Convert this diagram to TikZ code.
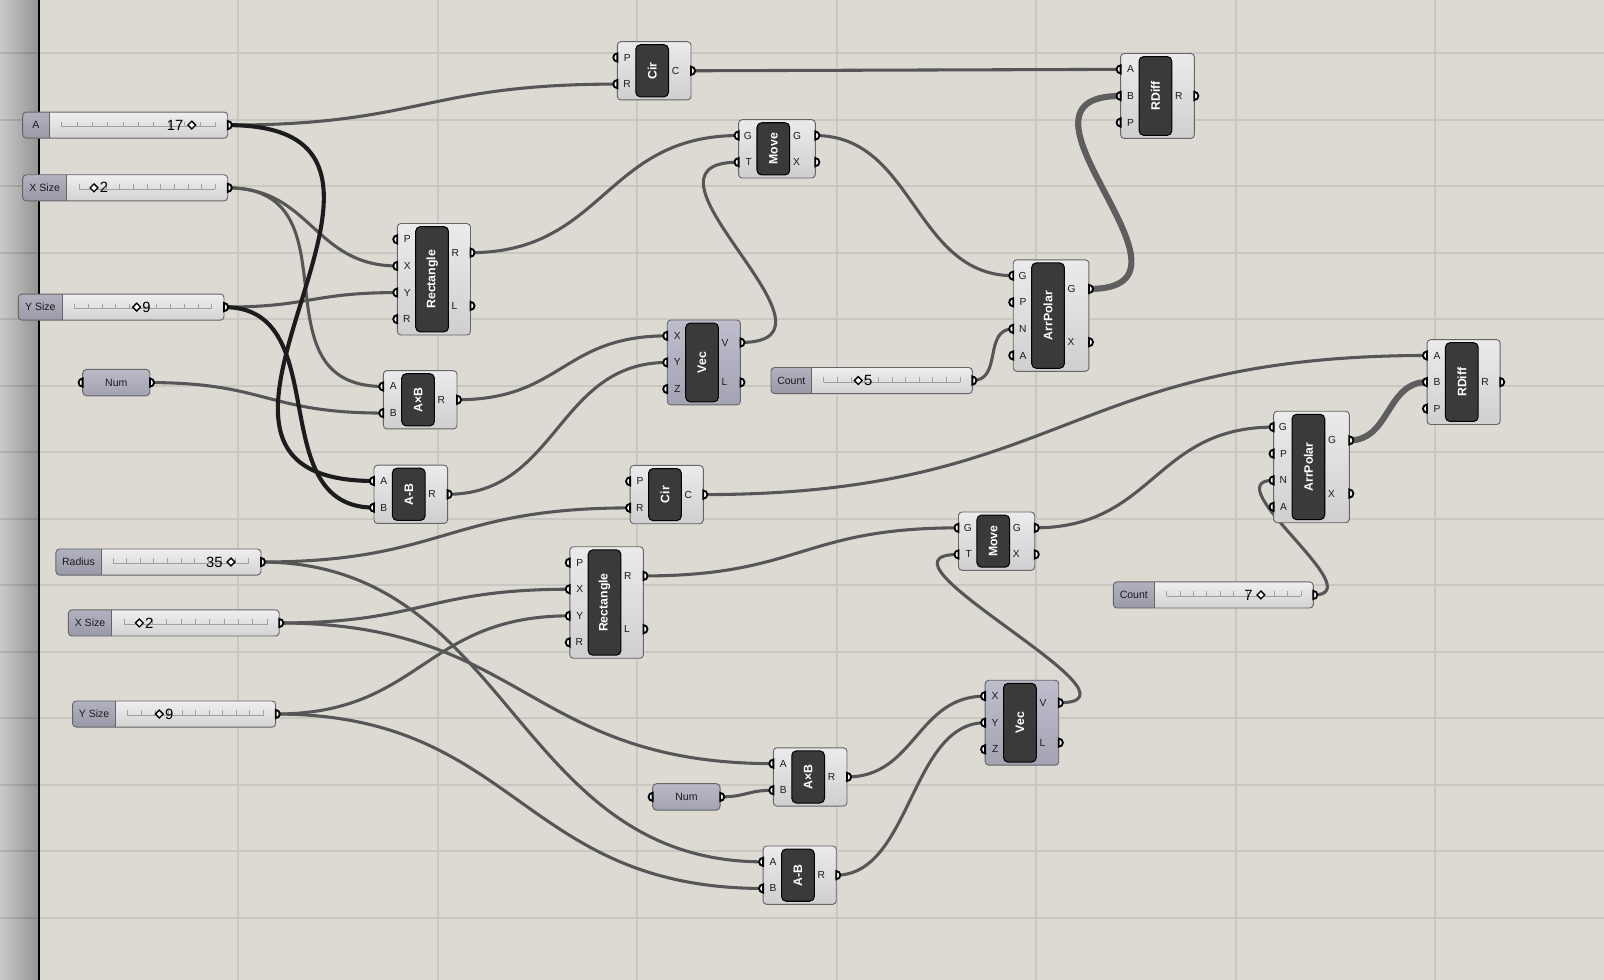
\documentclass[tikz,border=0pt]{standalone}
\usepackage{fontspec}
\setmainfont{Liberation Sans}

\definecolor{canvas}{HTML}{DCDAD3}
\definecolor{gridc}{HTML}{C9C7C1}
\definecolor{stripL}{HTML}{C9C9C6}
\definecolor{stripM}{HTML}{BDBDBA}
\definecolor{stripR}{HTML}{959593}
\definecolor{wiregray}{HTML}{565656}
\definecolor{wirehotc}{HTML}{1C1C1C}
\definecolor{wirelistc}{HTML}{5E5E5E}
\definecolor{boxedge}{HTML}{656565}
\definecolor{bodytop}{HTML}{EBEBEB}
\definecolor{bodybot}{HTML}{CFCFCF}
\definecolor{vectop}{HTML}{BEBDCC}
\definecolor{vecbot}{HTML}{A4A3B3}
\definecolor{capsfill}{HTML}{3A3A3A}
\definecolor{sltop}{HTML}{EEEEEE}
\definecolor{slbot}{HTML}{D3D3D3}
\definecolor{labtop}{HTML}{B2B1BF}
\definecolor{labbot}{HTML}{9A99A8}
\definecolor{numtop}{HTML}{BAB9C7}
\definecolor{numbot}{HTML}{A3A2B1}
\definecolor{trackc}{HTML}{A0A0A0}
\definecolor{ink}{HTML}{1A1A1A}

\pgfdeclarelayer{gridlayer}
\pgfdeclarelayer{wirelayer}
\pgfsetlayers{gridlayer,wirelayer,main}

\tikzset{
  gridline/.style={draw=gridc, line width=2pt},
  wire/.style={draw=wiregray, line width=3pt},
  wirehot/.style={draw=wirehotc, line width=4pt},
  wirelist/.style={draw=wirelistc, line width=6pt},
  ghbody/.style={draw=boxedge, line width=0.9pt, rounded corners=3.5pt,
    top color=bodytop, bottom color=bodybot, inner sep=0pt, outer sep=0pt},
  ghbodyv/.style={ghbody, top color=vectop, bottom color=vecbot},
  ghcaps/.style={draw=black, line width=1pt, fill=capsfill, rounded corners=4.5pt,
    inner sep=0pt, outer sep=0pt},
  ghtitle/.style={text=white, font=\fontsize{12}{14}\selectfont\bfseries,
    rotate=90, inner sep=0pt},
  ghplab/.style={text=ink, font=\fontsize{10}{12}\selectfont, inner sep=0pt},
  ghport/.style={draw=black, line width=1.8pt, fill=white},
  ghsltext/.style={text=ink, font=\fontsize{10.3}{12}\selectfont, inner sep=0pt},
  ghval/.style={text=black, font=\fontsize{14.5}{16}\selectfont, inner sep=0pt},
  valL/.style={anchor=east, xshift=-8pt},
  valR/.style={anchor=west, xshift=5.5pt},
  trackline/.style={draw=trackc, line width=0.9pt},
  ghgrip/.style={draw=black, line width=1.3pt, fill=white},
  ghnumbox/.style={draw=boxedge, line width=0.9pt, rounded corners=4pt,
    top color=numtop, bottom color=numbot, inner sep=0pt, outer sep=0pt,
    text=ink, font=\fontsize{10.3}{12}\selectfont},
}

% component: name, left, top, width, rows, title, inputs, outputs, body style
\newcommand\ghcomp[9]{%
  \pgfmathsetmacro\ghL{#2}%
  \pgfmathsetmacro\ghT{#3}%
  \pgfmathsetmacro\ghR{#2+#4}%
  \pgfmathsetmacro\ghH{26*#5+5}%
  \pgfmathsetmacro\ghC{\ghH-6}%
  \node[#9, minimum width=#4pt, minimum height=\ghH pt, anchor=north west] (#1) at (\ghL,\ghT) {};
  \node[ghcaps, minimum width=32pt, minimum height=\ghC pt, anchor=north west] (#1-core) at (\ghL+18,\ghT+3) {};
  \node[ghtitle] at (#1-core.center) {#6};
  \foreach \lab [count=\i] in {#7} {
    \pgfmathsetmacro\ghy{\ghT+2.5+26*(\i-0.5)}
    \coordinate (#1-i\i) at (\ghL,\ghy);
    \draw[ghport] (\ghL,\ghy-4) arc[start angle=-90,end angle=-270,radius=4] -- cycle;
    \node[ghplab, anchor=east] at (\ghL+13.2,\ghy) {\lab};
  }
  \foreach \lab [count=\i] in {#8} {\xdef\ghN{\i}}
  \foreach \lab [count=\i] in {#8} {
    \pgfmathsetmacro\ghy{\ghT+2.5+(\ghH-5)/\ghN*(\i-0.5)}
    \coordinate (#1-o\i) at (\ghR,\ghy);
    \draw[ghport] (\ghR,\ghy-4) arc[start angle=-90,end angle=90,radius=4] -- cycle;
    \node[ghplab, anchor=west] at (\ghL+53,\ghy) {\lab};
  }
}

% number slider: name, left, right, centre y, end of name tab, name, value, grip x, value side
\newcommand\ghslider[9]{%
  \pgfmathsetmacro\slT{#4-12.75}%
  \pgfmathsetmacro\slB{#4+12.75}%
  \pgfmathsetmacro\slW{#3-#2}%
  \begin{scope}
    \clip[rounded corners=3.5pt] (#2,\slT) rectangle (#3,\slB);
    \shade[top color=sltop, bottom color=slbot] (#2,\slT) rectangle (#3,\slB);
    \shade[top color=labtop, bottom color=labbot] (#2,\slT) rectangle (#5,\slB);
  \end{scope}
  \draw[boxedge, line width=0.9pt] (#5,\slT) -- (#5,\slB);
  \node[draw=boxedge, line width=0.9pt, rounded corners=3.5pt, minimum width=\slW pt,
    minimum height=25.5pt, inner sep=0pt, outer sep=0pt, anchor=west] (#1) at (#2,#4) {};
  \node[ghsltext] at ({(#2+#5)/2},#4) {#6};
  \draw[trackline] (#5+12,#4+1.5) -- (#3-12,#4+1.5);
  \foreach \k in {0,...,10} {
    \draw[trackline] ({#5+12+\k*(#3-#5-24)/10},#4+1.5) -- ++(0,-5);
  }
  \draw[ghgrip] (#8,#4-3.8) -- (#8+3.8,#4) -- (#8,#4+3.8) -- (#8-3.8,#4) -- cycle;
  \node[ghval, #9] at (#8,#4) {#7};
  \coordinate (#1-o) at (#3,#4);
  \draw[ghport] (#3,#4-4) arc[start angle=-90,end angle=90,radius=4] -- cycle;
}

% number parameter: name, left, right, centre y
\newcommand\ghnum[4]{%
  \pgfmathsetmacro\slW{#3-#2}%
  \node[ghnumbox, minimum width=\slW pt, minimum height=26pt, anchor=west] (#1) at (#2,#4) {Num};
  \coordinate (#1-i) at (#2,#4);
  \coordinate (#1-o) at (#3,#4);
  \draw[ghport] (#2,#4-4) arc[start angle=-90,end angle=-270,radius=4] -- cycle;
  \draw[ghport] (#3,#4-4) arc[start angle=-90,end angle=90,radius=4] -- cycle;
}

% wire between two ports with horizontal tangents
\newcommand\ghwire[4][wire]{%
  \draw[#1] (#2) .. controls +(#4,0) and +(-#4,0) .. (#3);
}

\begin{document}
\begin{tikzpicture}[x=1pt, y=-1pt]
\useasboundingbox (0,0) rectangle (1568,958);

\begin{pgfonlayer}{gridlayer}
  \fill[canvas] (0,0) rectangle (1568,958);
  \shade[left color=stripL, middle color=stripM, right color=stripR] (0,0) rectangle (37,958);
  \foreach \gx in {233,428,...,1403} \draw[gridline] (\gx,0) -- (\gx,958);
  \foreach \gy in {52,117,...,897} {
    \draw[gridline] (39,\gy) -- (1568,\gy);
    \draw[draw=black, draw opacity=0.1, line width=2pt] (0,\gy) -- (37,\gy);
  }
  \fill[black] (36.8,0) rectangle (39.2,958);
\end{pgfonlayer}

% upper group
\ghslider{sA}{22.2}{222.6}{122.3}{48.2}{A}{17}{187.5}{valL}
\ghslider{sXT}{22.2}{222.6}{183.6}{65.2}{X Size}{2}{91.9}{valR}
\ghslider{sYT}{17.9}{219}{300.2}{60.9}{Y Size}{9}{133.6}{valR}
\ghnum{numT}{80.8}{146.6}{374}
\ghcomp{cirT}{603.5}{40.7}{72}{2}{Cir}{P,R}{C}{ghbody}
\ghcomp{moveT}{722}{117}{75}{2}{Move}{G,T}{G,X}{ghbody}
\ghcomp{rectT}{388.4}{218.5}{71.5}{4}{Rectangle}{P,X,Y,R}{R,L}{ghbody}
\ghcomp{axbT}{374.7}{362.3}{72}{2}{A×B}{A,B}{R}{ghbody}
\ghcomp{absT}{365.6}{454.7}{72}{2}{A-B}{A,B}{R}{ghbody}
\ghcomp{vecT}{652.3}{312.8}{71.5}{3}{Vec}{X,Y,Z}{V,L}{ghbodyv}
\ghslider{sC5}{753.7}{950.5}{372}{793.4}{Count}{5}{839}{valR}
\ghcomp{arrT}{990.5}{254}{74}{4}{ArrPolar}{G,P,N,A}{G,X}{ghbody}
\ghcomp{rdiffT}{1095.5}{52.3}{72}{3}{RDiff}{A,B,P}{R}{ghbody}

% lower group
\ghcomp{cirM}{616}{455}{71.5}{2}{Cir}{P,R}{C}{ghbody}
\ghslider{sR}{54.7}{255.1}{549.4}{98.7}{Radius}{35}{225.8}{valL}
\ghslider{sXB}{66.8}{273}{609}{109.2}{X Size}{2}{136.2}{valR}
\ghslider{sYB}{71}{269.5}{698}{113}{Y Size}{9}{155.7}{valR}
\ghcomp{rectB}{557}{534.5}{72}{4}{Rectangle}{P,X,Y,R}{R,L}{ghbody}
\ghcomp{moveM}{937}{500.5}{74.5}{2}{Move}{G,T}{G,X}{ghbody}
\ghcomp{vecB}{963}{665}{72}{3}{Vec}{X,Y,Z}{V,L}{ghbodyv}
\ghcomp{axbB}{756}{731}{72}{2}{A×B}{A,B}{R}{ghbody}
\ghnum{numB}{638}{704}{779}
\ghcomp{absB}{746}{827}{71.5}{2}{A-B}{A,B}{R}{ghbody}
\ghcomp{arrR}{1245}{402}{74}{4}{ArrPolar}{G,P,N,A}{G,X}{ghbody}
\ghcomp{rdiffR}{1395}{332}{71.5}{3}{RDiff}{A,B,P}{R}{ghbody}
\ghslider{sC7}{1088.3}{1283.8}{581.6}{1128.4}{Count}{7}{1232.6}{valL}

\begin{pgfonlayer}{wirelayer}
  % upper group
  \ghwire{sA-o}{cirT-i2}{190}
  \ghwire{sXT-o}{rectT-i2}{82}
  \ghwire{sXT-o}{axbT-i1}{130}
  \ghwire{sYT-o}{rectT-i3}{84}
  \ghwire{numT-o}{axbT-i2}{114}
  \ghwire{rectT-o1}{moveT-i1}{131}
  \ghwire{axbT-o1}{vecT-i1}{103}
  \ghwire{absT-o1}{vecT-i2}{108}
  \ghwire{vecT-o1}{moveT-i2}{120}
  \ghwire{cirT-o1}{rdiffT-i1}{210}
  \ghwire{moveT-o1}{arrT-i1}{97}
  \ghwire{sC5-o}{arrT-i3}{30}
  \ghwire[wirelist]{arrT-o1}{rdiffT-i2}{130}
  \ghwire[wirehot]{sA-o}{absT-i1}{250}
  \ghwire[wirehot]{sYT-o}{absT-i2}{110}
  % lower group
  \ghwire{cirM-o1}{rdiffR-i1}{354}
  \ghwire[wirelist]{arrR-o1}{rdiffR-i2}{40}
  \ghwire{moveM-o1}{arrR-i1}{117}
  \ghwire{sC7-o}{arrR-i3}{60}
  \ghwire{rectB-o1}{moveM-i1}{154}
  \ghwire{vecB-o1}{moveM-i2}{100}
  \ghwire{sR-o}{cirM-i2}{180}
  \ghwire{sR-o}{absB-i1}{245}
  \ghwire{sXB-o}{rectB-i2}{141}
  \ghwire{sXB-o}{axbB-i1}{240}
  \ghwire{sYB-o}{rectB-i3}{143}
  \ghwire{sYB-o}{absB-i2}{237}
  \ghwire{numB-o}{axbB-i2}{26}
  \ghwire{axbB-o1}{vecB-i1}{67}
  \ghwire{absB-o1}{vecB-i2}{73}
\end{pgfonlayer}
\end{tikzpicture}
\end{document}
